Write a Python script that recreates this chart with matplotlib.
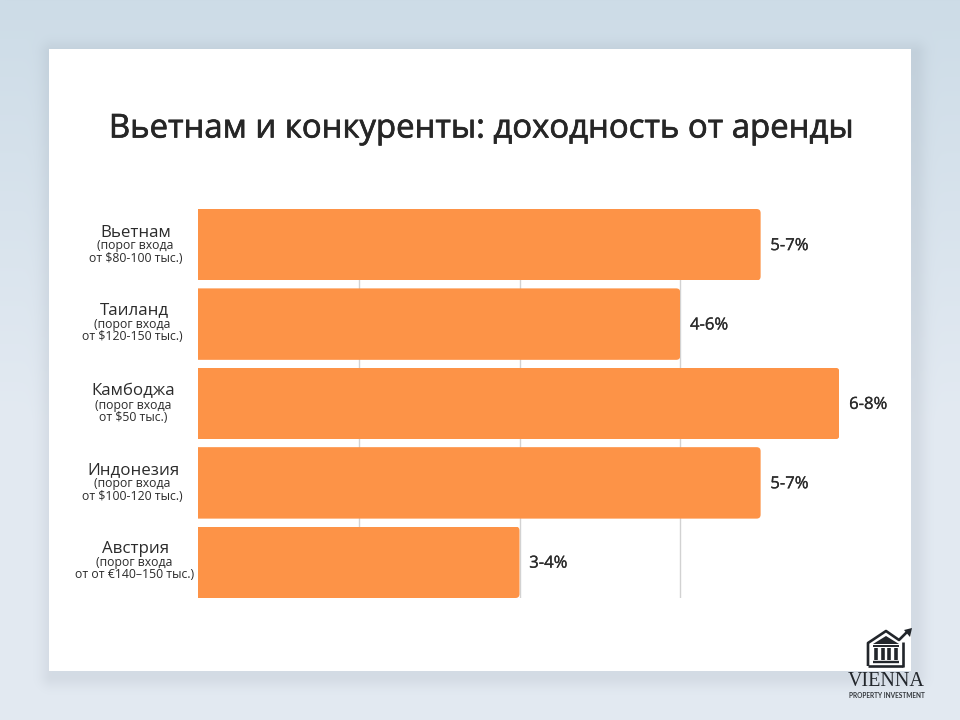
import numpy as np
import matplotlib
matplotlib.use('Agg')
import matplotlib.pyplot as plt
import matplotlib.patheffects as pe
from matplotlib.patches import FancyBboxPatch, Rectangle, Polygon
from matplotlib.transforms import IdentityTransform

countries = ['Вьетнам', 'Таиланд', 'Камбоджа', 'Индонезия', 'Австрия']
thresholds = ['(порог входа\nот $80-100 тыс.)', '(порог входа\nот $120-150 тыс.)', '(порог входа\nот $50 тыс.)',
              '(порог входа\nот $100-120 тыс.)', '(порог входа\nот от €140–150 тыс.)']
yield_top = [7, 6, 7.98, 7, 4]
yield_labels = ['5-7%', '4-6%', '6-8%', '5-7%', '3-4%']
grid_ticks = [2, 4, 6]

title = 'Вьетнам и конкуренты: доходность от аренды'
ORANGE = '#fd9347'
DARK = '#2b2b2b'
W, H = 960, 720

plt.rcParams['font.family'] = ['Open Sans', 'DejaVu Sans']

fig = plt.figure(figsize=(9.6, 7.2), dpi=100)

# background: gradient plus soft shadow of the card
bg = fig.add_axes([0, 0, 1, 1])
bg.set_xlim(0, W)
bg.set_ylim(H, 0)
bg.axis('off')
yy, xx = np.mgrid[0:H, 0:W]
t = np.clip(yy / 420, 0, 1)[..., None]
img = (1 - t) * np.array([205, 220, 231]) + t * np.array([227, 234, 242])
dx = np.maximum(np.maximum(49 + 3 - xx, xx - 911 - 3), 0)
dy = np.maximum(np.maximum(49 + 4 - yy, yy - 671 - 4), 0)
shadow = 0.11 * np.exp(-(np.hypot(dx, dy) / 12.0) ** 2)
img = img * (1 - shadow[..., None]) + np.array([90, 100, 115]) * shadow[..., None]
bg.imshow(img / 255, extent=(0, W, H, 0), aspect='auto', zorder=0)
bg.add_patch(Rectangle((49, 49), 862, 622, fc='white', ec='none', zorder=1))

# Open Sans has no medium weight here, so thicken the regular one a little
bg.text(480, 129, title, ha='center', va='center', fontsize=23.7, color='#262626', zorder=2,
        path_effects=[pe.withStroke(linewidth=0.5, foreground='#262626')])

# logo
logo = dict(color='#22262b', zorder=3, solid_capstyle='butt')
bg.plot([868, 868, 886, 899, 908], [666, 643, 631, 640, 631], lw=1.9, **logo)
bg.plot([903, 903], [642, 667], lw=1.9, **logo)
bg.plot([868, 903], [666, 666], lw=1.9, **logo)
bg.add_patch(Polygon([(904, 630), (912, 628), (910, 637)], fc='#22262b', ec='none', zorder=3))
bg.add_patch(Polygon([(873, 644), (886, 636), (899, 644)], fc='#22262b', ec='none', zorder=3))
for px in [876, 883, 889, 896]:
    bg.plot([px, px], [648, 660], lw=2.6, **logo)
bg.plot([873, 899], [646, 646], lw=1.4, **logo)
bg.plot([873, 899], [662, 662], lw=1.7, **logo)
bg.text(886.5, 682, 'VIENNA', ha='center', va='center', fontsize=14.5, family='Liberation Serif',
        color='#22262b', zorder=3)
bg.text(886.5, 695, 'PROPERTY INVESTMENT', ha='center', va='center', fontsize=4.7, fontweight='bold', family='Lato',
        color='#33373c', zorder=3)

# bars
left, right, top, bottom = 198, 841, 209, 598
ax = fig.add_axes([left / W, 1 - bottom / H, (right - left) / W, (bottom - top) / H])
ax.patch.set_alpha(0)
y = np.arange(len(countries))
bars = ax.barh(y, yield_top, height=0.9, color=ORANGE, zorder=2)
ax.set_xlim(0, 8)
ax.set_ylim(4.45, -0.45)
ax.set_xticks(grid_ticks)
ax.set_yticks([])
ax.tick_params(bottom=False, labelbottom=False)
ax.grid(axis='x', color='#d2d2d2', lw=1, zorder=0)
ax.set_axisbelow(True)
for s in ax.spines.values():
    s.set_visible(False)

# round only the right hand corners, by clipping
for bar in bars:
    (x0, y0), (x1, y1) = ax.transData.transform(bar.get_bbox().get_points())
    y0, y1 = min(y0, y1), max(y0, y1)
    clip = FancyBboxPatch((x0 - 20, y0), x1 - x0 + 20, y1 - y0, boxstyle='round,pad=0,rounding_size=4',
                          transform=IdentityTransform())
    bar.set_clip_path(clip)

name_x = [136, 134, 133.5, 133.5, 135.5]
sub_x = [135.5, 132, 133.5, 132, 134.5]
name_y = [233, 310.5, 391.5, 470.5, 549]
sub_y = [252, 330.5, 411.5, 490, 568.5]
for i in range(len(countries)):
    ax.annotate(yield_labels[i], (yield_top[i], y[i]), xytext=(7, -1), textcoords='offset points',
                ha='left', va='center', fontsize=12, color=DARK, annotation_clip=False,
                path_effects=[pe.withStroke(linewidth=0.2, foreground=DARK)])
    bg.text(name_x[i], name_y[i], countries[i], ha='center', va='center', fontsize=12.2, color=DARK, zorder=3)
    bg.text(sub_x[i], sub_y[i], thresholds[i], ha='center', va='center', fontsize=8.8, color=DARK, linespacing=0.96,
            zorder=3)

fig.savefig('out.png', dpi=100)
